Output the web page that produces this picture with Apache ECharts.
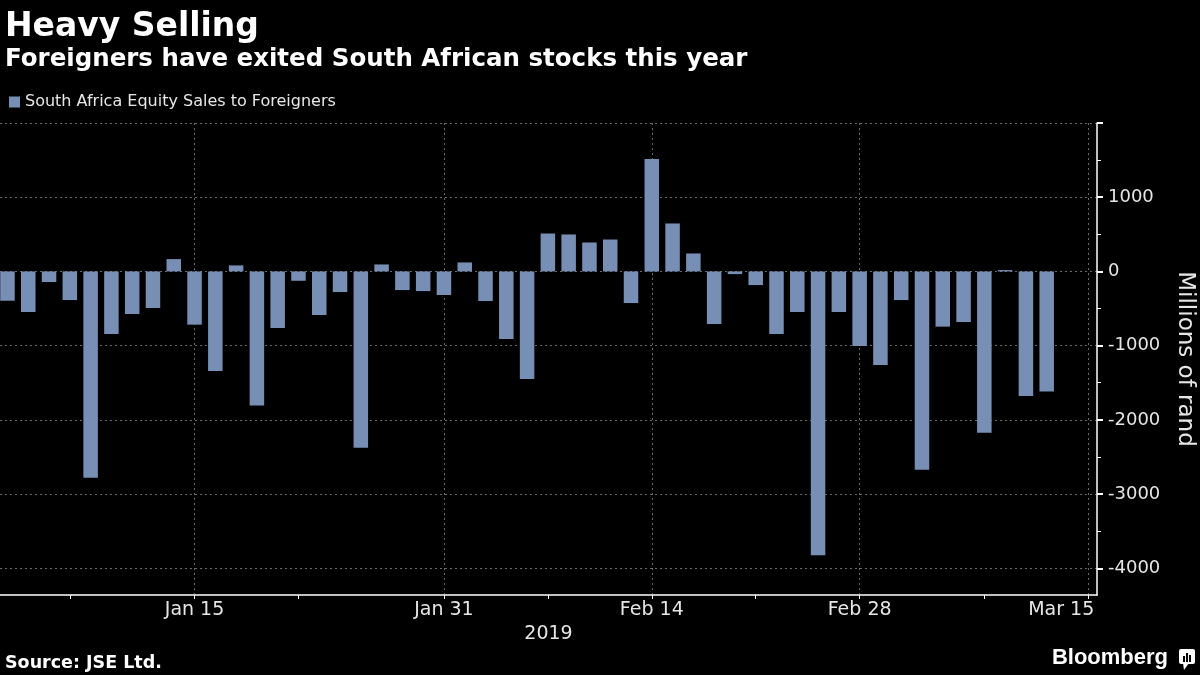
<!DOCTYPE html>
<html>
<head>
<meta charset="utf-8">
<script src="https://cdn.jsdelivr.net/npm/echarts@6/dist/echarts.min.js"></script>
<style>
html,body{margin:0;padding:0;background:#000;}
#chart{width:1200px;height:675px;}
</style>
</head>
<body>
<div id="chart"></div>
<script>
// ---------- DATA ----------
const dates = [
  '2019-01-02','2019-01-03','2019-01-04','2019-01-07','2019-01-08','2019-01-09','2019-01-10','2019-01-11',
  '2019-01-14','2019-01-15','2019-01-16','2019-01-17','2019-01-18','2019-01-21','2019-01-22','2019-01-23',
  '2019-01-24','2019-01-25','2019-01-28','2019-01-29','2019-01-30','2019-01-31',
  '2019-02-01','2019-02-04','2019-02-05','2019-02-06','2019-02-07','2019-02-08','2019-02-11','2019-02-12',
  '2019-02-13','2019-02-14','2019-02-15','2019-02-18','2019-02-19','2019-02-20','2019-02-21','2019-02-22',
  '2019-02-25','2019-02-26','2019-02-27','2019-02-28',
  '2019-03-01','2019-03-04','2019-03-05','2019-03-06','2019-03-07','2019-03-08','2019-03-11','2019-03-12','2019-03-13'
];
const extraAxisDates = ['2019-03-14','2019-03-15'];
const salesToForeigners = [
  -395, -547, -143, -386, -2780, -843, -574, -493, 166, -717,
  -1341, 81, -1807, -762, -126, -587, -278, -2377, 94, -251,
  -265, -318, 121, -399, -910, -1448, 511, 498, 390, 430,
  -426, 1516, 646, 242, -709, -36, -184, -843, -547, -3825,
  -547, -1004, -1260, -386, -2673, -744, -682, -2175, 18, -1677, -1619
];
const seriesName = 'South Africa Equity Sales to Foreigners';
const labelDates = ['2019-01-15','2019-01-31','2019-02-14','2019-02-28','2019-03-15'];
const labelTexts = ['Jan 15','Jan 31','Feb 14','Feb 28','Mar 15'];
const minorTickDates = ['2019-01-07','2019-01-22','2019-02-07','2019-02-21','2019-03-08'];
const yMajorTicks = [-4000,-3000,-2000,-1000,0,1000,2000];
const yLabelValues = [-4000,-3000,-2000,-1000,0,1000];
const yMinorTicks = [-3500,-2500,-1500,-500,500,1500];

// ---------- BUILD ----------
const axisDates = dates.concat(extraAxisDates);
const labelIdx = labelDates.map(d => axisDates.indexOf(d));
const minorIdx = minorTickDates.map(d => axisDates.indexOf(d));
// last label pulled left so it stays inside the plot (layout only)
const labelPos = labelIdx.map((v, i) => i === labelIdx.length - 1 ? v - 1.3 : v);
const barData = salesToForeigners.map((v, i) => [axisDates.indexOf(dates[i]), v]);

const FONT = 'DejaVu Sans';
const TXT = '#e6e6e6';
const BAR = '#778fb5';
const GRIDC = '#6a6a6a';

const chart = echarts.init(document.getElementById('chart'), null, {renderer: 'canvas'});
chart.setOption({
  backgroundColor: '#000',
  animation: false,
  title: [
    {
      text: 'Heavy Selling',
      subtext: 'Foreigners have exited South African stocks this year',
      left: 0, top: 6, itemGap: 3,
      textStyle: {color: '#fff', fontSize: 33, fontWeight: 'bold', fontFamily: FONT},
      subtextStyle: {color: '#fff', fontSize: 24.5, fontWeight: 'bold', fontFamily: FONT}
    },
    {
      text: 'Source: JSE Ltd.',
      left: 0, top: 649,
      textStyle: {color: '#fff', fontSize: 17.5, fontWeight: 'bold', fontFamily: FONT}
    }
  ],
  legend: {
    left: 4, top: 89,
    icon: 'rect', itemWidth: 11, itemHeight: 11, itemGap: 10,
    textStyle: {color: TXT, fontSize: 16, fontFamily: FONT},
    data: [seriesName]
  },
  grid: {left: 0, right: 103, top: 123, bottom: 80, outerBoundsMode: 'none', containLabel: false},
  xAxis: [
    {
      type: 'value', position: 'bottom', min: -0.36, max: 52.42,
      axisLine: {show: true, onZero: false, lineStyle: {color: '#fff', width: 1.5}},
      axisTick: {show: true, customValues: labelIdx, length: 4, lineStyle: {color: '#fff', width: 1}},
      axisLabel: {
        customValues: labelPos, color: TXT, fontSize: 19, fontFamily: FONT, margin: 6,
        formatter: function (val) {
          let best = 0, bd = Infinity;
          labelPos.forEach((p, i) => { const d = Math.abs(p - val); if (d < bd) { bd = d; best = i; } });
          return labelTexts[best];
        }
      },
      splitLine: {show: true, lineStyle: {color: GRIDC, type: [2, 3], width: 1}},
      name: '2019', nameLocation: 'middle', nameGap: 28,
      nameTextStyle: {color: TXT, fontSize: 19, fontFamily: FONT}
    },
    {
      type: 'value', position: 'bottom', min: -0.36, max: 52.42,
      axisLine: {show: false, onZero: false},
      axisTick: {show: true, customValues: minorIdx, length: 4, lineStyle: {color: '#fff', width: 1}},
      axisLabel: {show: false},
      splitLine: {show: false}
    }
  ],
  yAxis: [
    {
      type: 'value', position: 'right', min: -4360, max: 2000,
      axisLine: {show: true, onZero: false, lineStyle: {color: '#fff', width: 1.5}},
      axisTick: {show: true, customValues: yMajorTicks, length: 6, lineStyle: {color: '#fff', width: 2}},
      axisLabel: {
        customValues: yLabelValues, color: TXT, fontSize: 18, fontFamily: FONT, margin: 11,
        formatter: function (val) { return String(Math.round(val)); }
      },
      splitLine: {show: true, lineStyle: {color: GRIDC, type: [2, 3], width: 1}},
      name: 'Millions of rand', nameLocation: 'middle', nameRotate: -90, nameGap: 76,
      nameTextStyle: {color: TXT, fontSize: 23, fontFamily: FONT}
    },
    {
      type: 'value', position: 'right', min: -4360, max: 2000,
      axisLine: {show: false, onZero: false},
      axisTick: {show: true, customValues: yMinorTicks, length: 4, lineStyle: {color: '#fff', width: 1}},
      axisLabel: {show: false},
      splitLine: {show: false}
    }
  ],
  series: [
    {
      name: seriesName,
      type: 'bar',
      xAxisIndex: 0, yAxisIndex: 0,
      barWidth: 14.5,
      itemStyle: {color: BAR},
      data: barData
    }
  ],
  graphic: [
    {
      type: 'text', x: 1168, y: 647,
      style: {text: 'Bloomberg', align: 'right', verticalAlign: 'top', fill: '#fff',
              font: 'bold 22px "Liberation Sans"'}
    },
    {type: 'rect', shape: {x: 1179, y: 649, width: 16, height: 15, r: 2}, style: {fill: '#fff'}},
    {type: 'polygon', shape: {points: [[1183, 663], [1189, 663], [1184, 670]]}, style: {fill: '#fff'}},
    {type: 'rect', shape: {x: 1183, y: 656, width: 2, height: 6}, style: {fill: '#000'}},
    {type: 'rect', shape: {x: 1186, y: 653, width: 2, height: 9}, style: {fill: '#000'}},
    {type: 'rect', shape: {x: 1189, y: 655, width: 2, height: 7}, style: {fill: '#000'}}
  ]
});
</script>
</body>
</html>
